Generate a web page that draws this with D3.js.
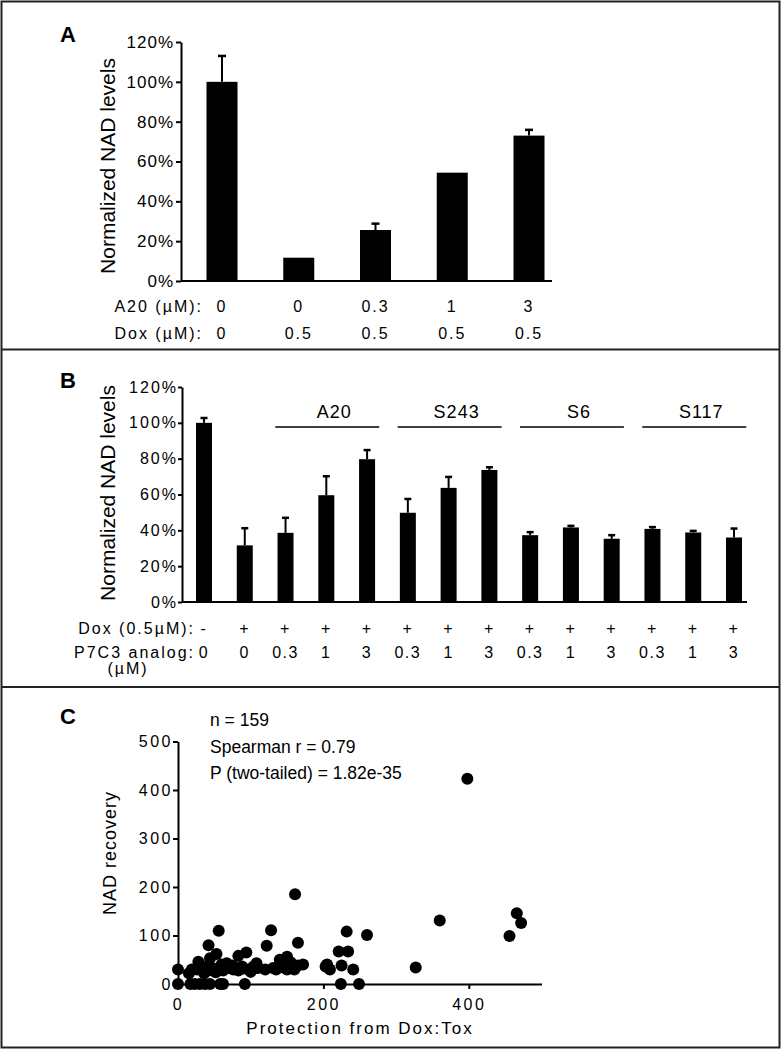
<!DOCTYPE html>
<html>
<head>
<meta charset="utf-8">
<script src="https://cdn.jsdelivr.net/npm/d3@7"></script>
<style>
body { margin: 0; background: #fff; }
text { font-family: "Liberation Sans", Arial, sans-serif; fill: #000; }
</style>
</head>
<body>
<svg id="fig" width="782" height="1050"></svg>
<script>
// panel A data
var aA20 = ["0", "0", "0.3", "1", "3"];
var aDox = ["0", "0.5", "0.5", "0.5", "0.5"];
var aMeans = [1.00, 0.117, 0.256, 0.544, 0.73];
var aErrs = [0.13, 0, 0.032, 0, 0.029];
var pctTicks = [0, 0.2, 0.4, 0.6, 0.8, 1.0, 1.2];

// panel B data
var bDox = ["-", "+", "+", "+", "+", "+", "+", "+", "+", "+", "+", "+", "+", "+"];
var bDose = ["0", "0", "0.3", "1", "3", "0.3", "1", "3", "0.3", "1", "3", "0.3", "1", "3"];
var bMeans = [1.00, 0.316, 0.386, 0.596, 0.797, 0.498, 0.637, 0.737, 0.373, 0.416, 0.353, 0.408, 0.388, 0.36];
var bErrs = [0.027, 0.096, 0.084, 0.106, 0.051, 0.077, 0.061, 0.015, 0.017, 0.009, 0.02, 0.01, 0.009, 0.05];
var bGroupNames = ["A20", "S243", "S6", "S117"];
var bGroupStart = [2, 5, 8, 11];
var bGroupEnd = [4, 7, 10, 13];

// panel C data (protection, NAD recovery)
var cProt = [398, 161, 360, 466, 472, 456, 327, 260, 232, 221, 234, 225, 241, 224, 249, 205, 209, 203,
  128, 122, 165, 56, 42, 53, 44, 28, 94, 83, 67, 108, 110, 131, 140, 147, 150, 143, 150, 158, 165, 172, 155,
  0, 0, 17, 23, 30, 37, 44, 58, 62, 92, 19, 26, 35, 42, 49, 55, 62, 69, 76, 83, 90, 97, 104,
  15, 40, 60, 75, 100, 52, 36, 88, 120, 135, 160];
var cNad = [423, 185, 131, 146, 126, 99, 34, 101, 108, 67, 67, 38, 30, 0, 0, 40, 30, 36,
  111, 79, 85, 110, 80, 62, 53, 46, 65, 58, 43, 43, 33, 33, 50, 33, 56, 38, 30, 34, 38, 40, 45,
  30, 0, 0, 0, 0, 0, 0, 0, 0, 0, 30, 30, 30, 28, 32, 30, 28, 33, 30, 28, 32, 30, 36,
  22, 36, 40, 38, 25, 24, 22, 36, 30, 30, 30];
var cTicksY = [0, 100, 200, 300, 400, 500];
var cTicksX = [0, 200, 400];
var cStats = ["n = 159", "Spearman r = 0.79", "P (two-tailed) = 1.82e-35"];

var svg = d3.select("#fig");
var pct = d3.format(".0%");

// frame and separators
svg.append("rect").attr("x", 1.5).attr("y", 1.5).attr("width", 778).attr("height", 1046)
  .attr("fill", "none").attr("stroke", "#222").attr("stroke-width", 2);
svg.append("line").attr("x1", 1).attr("x2", 780).attr("y1", 349.5).attr("y2", 349.5)
  .attr("stroke", "#222").attr("stroke-width", 2);
svg.append("line").attr("x1", 1).attr("x2", 780).attr("y1", 687).attr("y2", 687)
  .attr("stroke", "#222").attr("stroke-width", 2);

var panelLabel = function (txt, y) {
  svg.append("text").attr("x", 60).attr("y", y).attr("dy", "0.35em")
    .style("font-size", "22px").style("font-weight", "bold").text(txt);
};

var styleAxis = function (g, fs, ls) {
  g.select(".domain").attr("stroke", "#000").attr("stroke-width", 2);
  g.selectAll(".tick line").attr("stroke", "#000").attr("stroke-width", 2);
  g.selectAll(".tick text").attr("fill", "#000")
    .style("font-family", "'Liberation Sans', Arial, sans-serif")
    .style("font-size", fs + "px").style("letter-spacing", ls + "px");
};

var drawBars = function (g, xs, ys, means, errs, bw, capw) {
  means.forEach(function (m, i) {
    var cx = xs(i);
    if (errs[i] > 0) {
      g.append("line").attr("x1", cx).attr("x2", cx)
        .attr("y1", ys(m)).attr("y2", ys(m + errs[i]))
        .attr("stroke", "#000").attr("stroke-width", 2);
      g.append("line").attr("x1", cx - capw / 2).attr("x2", cx + capw / 2)
        .attr("y1", ys(m + errs[i])).attr("y2", ys(m + errs[i]))
        .attr("stroke", "#000").attr("stroke-width", 2.5);
    }
    g.append("rect").attr("x", cx - bw / 2).attr("y", ys(m))
      .attr("width", bw).attr("height", ys(0) - ys(m)).attr("fill", "#000");
  });
};

// ---------- panel A ----------
panelLabel("A", 34);
var yA = d3.scaleLinear().domain([0, 1.2]).range([281, 42]);
var xA = d3.scalePoint().domain(d3.range(aMeans.length)).range([222, 529]);

svg.append("g").attr("transform", "translate(181,0)")
  .call(d3.axisLeft(yA).tickValues(pctTicks).tickFormat(pct).tickSize(5).tickSizeOuter(0).tickPadding(2))
  .call(styleAxis, 17, 1);
svg.append("line").attr("x1", 181).attr("x2", 552).attr("y1", yA(0)).attr("y2", yA(0))
  .attr("stroke", "#000").attr("stroke-width", 2);
drawBars(svg, xA, yA, aMeans, aErrs, 31, 8);

svg.append("text").attr("transform", "translate(108,166) rotate(-90)")
  .attr("text-anchor", "middle").attr("dy", "0.35em")
  .style("font-size", "21px").text("Normalized NAD levels");

var rowA = function (label, vals, y) {
  svg.append("text").attr("x", 203).attr("y", y).attr("dy", "0.35em").attr("text-anchor", "end")
    .style("font-size", "16px").style("letter-spacing", "2px").text(label);
  vals.forEach(function (v, i) {
    svg.append("text").attr("x", xA(i)).attr("y", y).attr("dy", "0.35em").attr("text-anchor", "middle")
      .style("font-size", "16px").style("letter-spacing", "2px").text(v);
  });
};
rowA("A20 (\u00b5M):", aA20, 306);
rowA("Dox (\u00b5M):", aDox, 333);

// ---------- panel B ----------
panelLabel("B", 380);
var yB = d3.scaleLinear().domain([0, 1.2]).range([602, 387]);
var xB = d3.scalePoint().domain(d3.range(bMeans.length)).range([204, 734]);
var stepB = xB.step();

svg.append("g").attr("transform", "translate(182,0)")
  .call(d3.axisLeft(yB).tickValues(pctTicks).tickFormat(pct).tickSize(4).tickSizeOuter(0).tickPadding(0))
  .call(styleAxis, 16, 2);
svg.append("line").attr("x1", 182).attr("x2", 747).attr("y1", yB(0)).attr("y2", yB(0))
  .attr("stroke", "#000").attr("stroke-width", 2);
drawBars(svg, xB, yB, bMeans, bErrs, 16, 7);

svg.append("text").attr("transform", "translate(108,493) rotate(-90)")
  .attr("text-anchor", "middle").attr("dy", "0.35em")
  .style("font-size", "21px").text("Normalized NAD levels");

bGroupNames.forEach(function (name, k) {
  var x1 = xB(bGroupStart[k]) - 0.25 * stepB;
  var x2 = xB(bGroupEnd[k]) + 0.3 * stepB;
  svg.append("line").attr("x1", x1).attr("x2", x2).attr("y1", 427).attr("y2", 427)
    .attr("stroke", "#000").attr("stroke-width", 1.6);
  svg.append("text").attr("x", (x1 + x2) / 2 + 7).attr("y", 412).attr("dy", "0.35em")
    .attr("text-anchor", "middle").style("font-size", "18px").style("letter-spacing", "1px").text(name);
});

var rowB = function (label, vals, y) {
  svg.append("text").attr("x", 195).attr("y", y).attr("dy", "0.35em").attr("text-anchor", "end")
    .style("font-size", "16px").style("letter-spacing", "2px").text(label);
  vals.forEach(function (v, i) {
    svg.append("text").attr("x", xB(i)).attr("y", y).attr("dy", "0.35em").attr("text-anchor", "middle")
      .style("font-size", "16px").style("letter-spacing", "1.5px").text(v);
  });
};
rowB("Dox (0.5\u00b5M):", bDox, 628);
rowB("P7C3 analog:", bDose, 652);
svg.append("text").attr("x", 128).attr("y", 668).attr("dy", "0.35em").attr("text-anchor", "middle")
  .style("font-size", "16px").style("letter-spacing", "2px").text("(\u00b5M)");

// ---------- panel C ----------
panelLabel("C", 716);
var xC = d3.scaleLinear().domain([0, 500]).range([178, 541.5]);
var yC = d3.scaleLinear().domain([0, 500]).range([984, 741.5]);

svg.append("g").attr("transform", "translate(178,0)")
  .call(d3.axisLeft(yC).tickValues(cTicksY).tickSize(5).tickSizeOuter(0).tickPadding(0))
  .call(styleAxis, 16, 2.5);
svg.append("g").attr("transform", "translate(0,984)")
  .call(d3.axisBottom(xC).tickValues(cTicksX).tickSize(5).tickSizeOuter(0).tickPadding(10))
  .call(styleAxis, 16, 2.5);

cProt.forEach(function (p, i) {
  svg.append("circle").attr("cx", xC(p)).attr("cy", yC(cNad[i])).attr("r", 6).attr("fill", "#000");
});

svg.append("text").attr("transform", "translate(110,853) rotate(-90)")
  .attr("text-anchor", "middle").attr("dy", "0.35em")
  .style("font-size", "18px").style("letter-spacing", "1px").text("NAD recovery");
svg.append("text").attr("x", 360).attr("y", 1028).attr("dy", "0.35em").attr("text-anchor", "middle")
  .style("font-size", "17px").style("letter-spacing", "2px").text("Protection from Dox:Tox");

cStats.forEach(function (s, i) {
  svg.append("text").attr("x", 210).attr("y", 720 + i * 26.5).attr("dy", "0.35em")
    .style("font-size", "17.5px").text(s);
});
</script>
</body>
</html>
